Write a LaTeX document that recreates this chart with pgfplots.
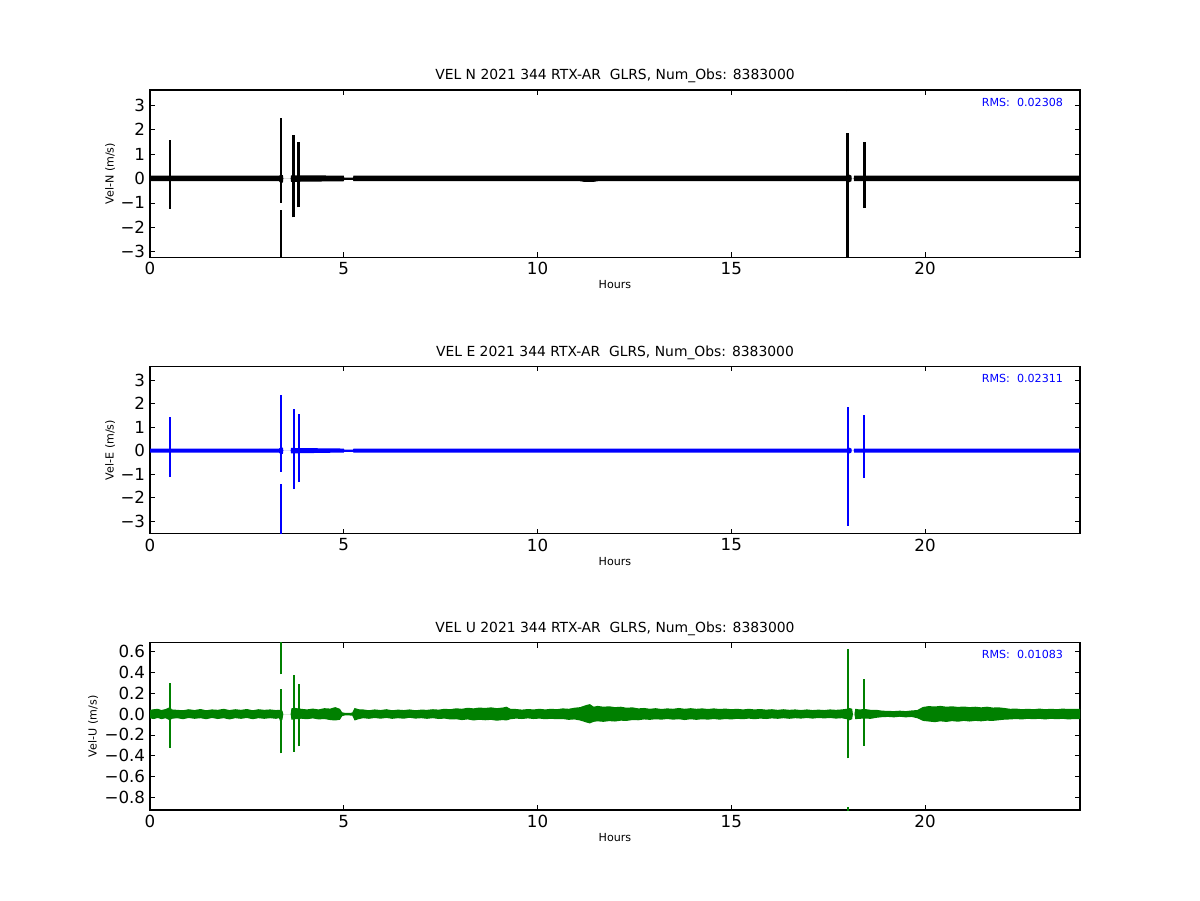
\documentclass[border=0pt]{standalone}
\usepackage{fontspec}
\setmainfont{DejaVu Sans}
\usepackage{pgfplots}
\pgfplotsset{compat=1.18}
\usepackage{pgfplotstable}
\usepgfplotslibrary{fillbetween}
\definecolor{mplgreen}{rgb}{0,0.5,0}
\definecolor{mplblue}{rgb}{0,0,1}

% band envelopes: t lo hi
\pgfplotstableread{
t lo hi
0.00 -0.115 0.115
0.50 -0.115 0.115
0.52 -0.15 0.15
0.54 -0.115 0.115
3.33 -0.115 0.115
3.36 -0.17 0.14
3.43 -0.17 0.14
3.44 0 0
3.63 0 0
3.64 -0.14 0.13
5.00 -0.115 0.115
5.01 -0.06 0.03
5.24 -0.06 0.03
5.25 -0.115 0.115
11.10 -0.115 0.115
11.20 -0.14 0.12
11.45 -0.14 0.12
11.55 -0.115 0.115
18.00 -0.115 0.115
18.02 -0.17 0.17
18.10 -0.115 0.115
18.11 0 0
18.16 0 0
18.17 -0.115 0.115
24.00 -0.115 0.115
}\bandN

\pgfplotstableread{
t lo hi
0.00 -0.085 0.085
0.50 -0.085 0.085
0.52 -0.12 0.12
0.54 -0.085 0.085
3.33 -0.085 0.085
3.36 -0.14 0.12
3.43 -0.14 0.12
3.44 0 0
3.63 0 0
3.64 -0.12 0.11
5.00 -0.085 0.085
5.01 -0.06 0.04
5.24 -0.06 0.04
5.25 -0.085 0.085
18.00 -0.085 0.085
18.02 -0.14 0.14
18.10 -0.085 0.085
18.11 0 0
18.16 0 0
18.17 -0.085 0.085
24.00 -0.085 0.085
}\bandE

\pgfplotstableread{
t lo hi
0.00 -0.042 0.040
0.10 -0.048 0.046
0.20 -0.038 0.050
0.30 -0.050 0.038
0.40 -0.040 0.048
0.48 -0.055 0.060
0.52 -0.065 0.072
0.56 -0.046 0.044
0.70 -0.040 0.040
0.85 -0.050 0.036
1.00 -0.038 0.046
1.15 -0.046 0.038
1.30 -0.040 0.048
1.45 -0.050 0.036
1.60 -0.038 0.044
1.75 -0.048 0.040
1.90 -0.040 0.050
2.05 -0.052 0.038
2.20 -0.040 0.046
2.35 -0.046 0.040
2.50 -0.038 0.048
2.65 -0.050 0.036
2.80 -0.040 0.046
2.95 -0.046 0.040
3.10 -0.040 0.044
3.25 -0.046 0.038
3.33 -0.040 0.040
3.37 -0.080 0.040
3.42 -0.050 0.030
3.44 0 0
3.63 0 0
3.65 -0.055 0.055
3.75 -0.050 0.058
3.90 -0.045 0.050
4.05 -0.050 0.044
4.20 -0.042 0.052
4.35 -0.052 0.044
4.50 -0.048 0.056
4.65 -0.058 0.052
4.78 -0.062 0.066
4.90 -0.055 0.050
4.96 -0.020 0.016
5.05 -0.012 0.010
5.15 -0.014 0.010
5.22 -0.016 0.014
5.28 -0.062 0.058
5.38 -0.050 0.046
5.50 -0.040 0.044
5.65 -0.046 0.036
5.80 -0.038 0.044
5.95 -0.045 0.038
6.10 -0.038 0.046
6.25 -0.046 0.036
6.40 -0.040 0.042
6.55 -0.045 0.038
6.70 -0.036 0.044
6.85 -0.044 0.036
7.00 -0.040 0.042
7.15 -0.046 0.040
7.30 -0.040 0.046
7.45 -0.048 0.042
7.60 -0.044 0.050
7.75 -0.052 0.046
7.90 -0.050 0.055
8.05 -0.058 0.050
8.20 -0.052 0.060
8.35 -0.062 0.054
8.50 -0.055 0.062
8.65 -0.060 0.058
8.80 -0.056 0.064
8.95 -0.064 0.056
9.10 -0.058 0.062
9.20 -0.062 0.070
9.30 -0.050 0.050
9.45 -0.044 0.048
9.60 -0.048 0.042
9.75 -0.042 0.048
9.90 -0.048 0.044
10.05 -0.044 0.050
10.20 -0.050 0.044
10.35 -0.046 0.050
10.50 -0.050 0.046
10.65 -0.048 0.054
10.80 -0.056 0.050
10.95 -0.052 0.060
11.10 -0.062 0.066
11.25 -0.080 0.085
11.35 -0.090 0.095
11.45 -0.075 0.070
11.55 -0.070 0.078
11.70 -0.075 0.070
11.85 -0.068 0.074
12.00 -0.072 0.066
12.15 -0.064 0.070
12.30 -0.066 0.060
12.45 -0.058 0.064
12.60 -0.060 0.054
12.75 -0.052 0.058
12.90 -0.056 0.050
13.05 -0.050 0.056
13.20 -0.054 0.048
13.35 -0.048 0.054
13.50 -0.054 0.050
13.65 -0.050 0.058
13.80 -0.058 0.050
13.95 -0.050 0.056
14.10 -0.056 0.050
14.25 -0.050 0.054
14.40 -0.054 0.048
14.55 -0.048 0.054
14.70 -0.054 0.048
14.85 -0.048 0.052
15.00 -0.052 0.046
15.15 -0.046 0.050
15.30 -0.050 0.044
15.45 -0.044 0.050
15.60 -0.050 0.044
15.75 -0.044 0.048
15.90 -0.048 0.042
16.05 -0.042 0.046
16.20 -0.046 0.040
16.35 -0.040 0.046
16.50 -0.046 0.040
16.65 -0.040 0.044
16.80 -0.044 0.038
16.95 -0.038 0.044
17.10 -0.044 0.038
17.25 -0.038 0.042
17.40 -0.042 0.038
17.55 -0.038 0.044
17.70 -0.044 0.040
17.85 -0.040 0.044
17.98 -0.050 0.050
18.05 -0.060 0.058
18.12 -0.050 0.050
18.14 0 0
18.18 0 0
18.20 -0.050 0.050
18.30 -0.046 0.044
18.45 -0.044 0.048
18.60 -0.046 0.040
18.75 -0.036 0.040
18.90 -0.030 0.032
19.05 -0.028 0.030
19.20 -0.032 0.028
19.35 -0.026 0.032
19.50 -0.032 0.028
19.65 -0.028 0.034
19.80 -0.040 0.038
19.95 -0.066 0.068
20.10 -0.072 0.076
20.25 -0.078 0.072
20.40 -0.070 0.078
20.55 -0.076 0.070
20.70 -0.068 0.074
20.85 -0.074 0.068
21.00 -0.066 0.072
21.15 -0.072 0.066
21.30 -0.066 0.070
21.45 -0.070 0.064
21.60 -0.064 0.070
21.75 -0.066 0.062
21.90 -0.060 0.064
22.05 -0.054 0.058
22.20 -0.052 0.050
22.35 -0.048 0.052
22.50 -0.052 0.046
22.65 -0.046 0.050
22.80 -0.050 0.046
22.95 -0.046 0.052
23.10 -0.052 0.046
23.25 -0.046 0.050
23.40 -0.050 0.046
23.55 -0.046 0.052
23.70 -0.052 0.048
23.85 -0.048 0.050
24.00 -0.050 0.048
}\bandU

\pgfplotsset{
  panel/.style={
    scale only axis, width=669.6pt, height=120.5pt,
    anchor=south west,
    xmin=0, xmax=24, xtick={0,5,10,15,20},
    axis line style={line width=1pt, black},
    every tick/.style={black, line width=0.5pt},
    major tick length=3.6pt,
    tick label style={font=\fontsize{12}{14}\selectfont},
    /pgf/number format/assume math mode=true,
    title style={font=\fontsize{10}{12}\selectfont, at={(0.5,1)}, anchor=base, yshift=1.2pt},
    xlabel=Hours,
    xlabel style={font=\fontsize{8}{10}\selectfont, at={(axis description cs:0.5,-0.189)}, anchor=base},
    ylabel style={font=\fontsize{8}{10}\selectfont, anchor=center},
    unbounded coords=jump,
  },
}
\tikzset{rms/.style={anchor=east, text=mplblue, font=\fontsize{8}{10}\selectfont, inner sep=0pt}}

\begin{document}
\begin{tikzpicture}
\path (0,0) rectangle (864pt,648pt);

% ---------------- North ----------------
\begin{axis}[panel, at={(108pt,462.7pt)},
  ymin=-3.23, ymax=3.62,
  ytick={-3,-2,-1,0,1,2,3}, yticklabels={−3,−2,−1,0,1,2,3},
  title={VEL N 2021 344 RTX-AR\ \ GLRS, Num\_Obs: 8383000},
  ylabel={Vel-N (m/s)},
  ylabel style={at={(axis description cs:-0.043,0.5)}}]
\addplot[name path=nhi, draw=none] table[x=t, y=hi] {\bandN};
\addplot[name path=nlo, draw=none] table[x=t, y=lo] {\bandN};
\addplot[black] fill between[of=nhi and nlo];
\addplot[black, line width=2.1pt] coordinates {
  (0.516,-1.25) (0.516,1.56) (0.516,nan)
  (3.38,-1.0) (3.38,2.49) (3.38,nan)
  (3.38,-3.4) (3.38,-1.3) (3.38,nan)
  (3.71,-1.59) (3.71,1.77) (3.71,nan)
  (3.84,-1.18) (3.84,1.49) (3.84,nan)
  (18.01,-3.4) (18.01,1.84) (18.01,nan)
  (18.01,3.56) (18.01,3.7) (18.01,nan)
  (18.43,-1.22) (18.43,1.49)
};
\node[rms] at (rel axis cs:0.982,0.928) {RMS:\ \ 0.02308};
\end{axis}

% ---------------- East ----------------
\begin{axis}[panel, at={(108pt,263.7pt)},
  ymin=-3.54, ymax=3.58,
  ytick={-3,-2,-1,0,1,2,3}, yticklabels={−3,−2,−1,0,1,2,3},
  title={VEL E 2021 344 RTX-AR\ \ GLRS, Num\_Obs: 8383000},
  ylabel={Vel-E (m/s)},
  ylabel style={at={(axis description cs:-0.043,0.5)}}]
\addplot[name path=ehi, draw=none] table[x=t, y=hi] {\bandE};
\addplot[name path=elo, draw=none] table[x=t, y=lo] {\bandE};
\addplot[mplblue] fill between[of=ehi and elo];
\addplot[mplblue, line width=1.7pt] coordinates {
  (0.516,-1.11) (0.516,1.44) (0.516,nan)
  (3.38,-0.9) (3.38,2.36) (3.38,nan)
  (3.38,-3.7) (3.38,-1.43) (3.38,nan)
  (3.71,-1.64) (3.71,1.75) (3.71,nan)
  (3.84,-1.34) (3.84,1.55) (3.84,nan)
  (18.01,-3.21) (18.01,1.85) (18.01,nan)
  (18.43,-1.17) (18.43,1.51)
};
\node[rms] at (rel axis cs:0.982,0.928) {RMS:\ \ 0.02311};
\end{axis}

% ---------------- Up ----------------
\begin{axis}[panel, at={(108pt,64.8pt)},
  ymin=-0.92, ymax=0.684,
  ytick={-0.8,-0.6,-0.4,-0.2,0,0.2,0.4,0.6},
  yticklabels={−0.8,−0.6,−0.4,−0.2,0.0,0.2,0.4,0.6},
  title={VEL U 2021 344 RTX-AR\ \ GLRS, Num\_Obs: 8383000},
  ylabel={Vel-U (m/s)},
  ylabel style={at={(axis description cs:-0.0612,0.5)}}]
\addplot[name path=uhi, draw=none] table[x=t, y=hi] {\bandU};
\addplot[name path=ulo, draw=none] table[x=t, y=lo] {\bandU};
\addplot[mplgreen] fill between[of=uhi and ulo];
\addplot[mplgreen, line width=1.5pt] coordinates {
  (0.516,-0.323) (0.516,0.294) (0.516,nan)
  (3.38,0.38) (3.38,0.75) (3.38,nan)
  (3.38,-0.377) (3.38,0.237) (3.38,nan)
  (3.71,-0.36) (3.71,0.374) (3.71,nan)
  (3.84,-0.31) (3.84,0.288) (3.84,nan)
  (18.01,-0.425) (18.01,0.62) (18.01,nan)
  (18.01,-0.93) (18.01,-0.893) (18.01,nan)
  (18.43,-0.304) (18.43,0.333)
};
\node[rms] at (rel axis cs:0.982,0.928) {RMS:\ \ 0.01083};
\end{axis}
\end{tikzpicture}
\end{document}
